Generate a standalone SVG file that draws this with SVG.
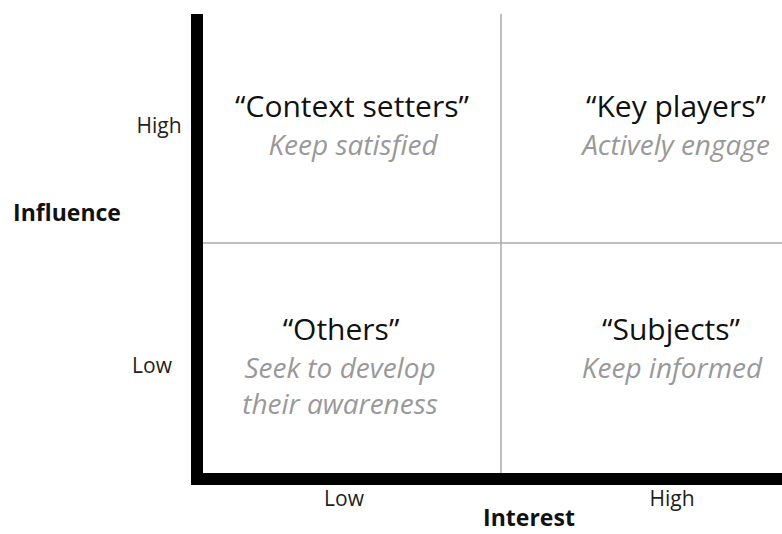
<svg xmlns="http://www.w3.org/2000/svg" width="782" height="534" viewBox="0 0 782 534">
<style>
.t{font-family:"Open Sans","Liberation Sans",sans-serif;text-anchor:middle}
.h{font-size:30px;fill:#111}
.s{font-size:28px;fill:#999;font-style:italic}
.a{font-size:21px;fill:#222}
.b{font-size:23px;font-weight:bold;fill:#111}
.g{stroke:#aaa;stroke-width:1.5}
</style>
<rect width="782" height="534" fill="#fff"/>
<g id="grid">
<line class="g" x1="501" y1="14" x2="501" y2="473"/>
<line class="g" x1="203" y1="243" x2="782" y2="243"/>
</g>
<g id="axes">
<rect x="191" y="14" width="12" height="471" fill="#000"/>
<rect x="191" y="473" width="591" height="12" fill="#000"/>
</g>
<g id="q-context">
<text class="t h" x="352" y="117">“Context setters”</text>
<text class="t s" x="353" y="155">Keep satisfied</text>
</g>
<g id="q-key">
<text class="t h" x="676" y="117">“Key players”</text>
<text class="t s" x="676" y="155">Actively engage</text>
</g>
<g id="q-others">
<text class="t h" x="341" y="340">“Others”</text>
<text class="t s" x="340" y="378">Seek to develop</text>
<text class="t s" x="340" y="414">their awareness</text>
</g>
<g id="q-subjects">
<text class="t h" x="671" y="340">“Subjects”</text>
<text class="t s" x="672" y="378">Keep informed</text>
</g>
<g id="labels">
<text class="t a" x="159" y="133">High</text>
<text class="t a" x="152" y="373">Low</text>
<text class="t b" x="67" y="221">Influence</text>
<text class="t a" x="344" y="506">Low</text>
<text class="t a" x="672" y="506">High</text>
<text class="t b" x="529" y="526">Interest</text>
</g>
</svg>
